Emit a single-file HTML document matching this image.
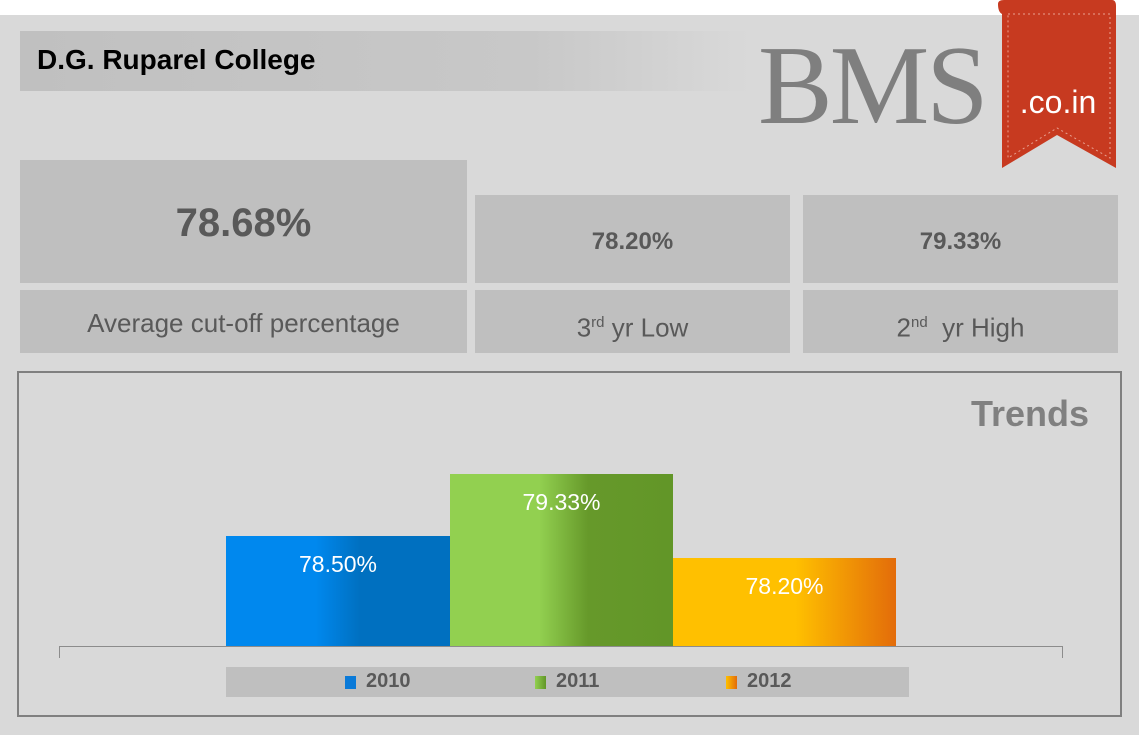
<!DOCTYPE html>
<html><head><style>
body{margin:0;width:1139px;height:735px;background:#fff;position:relative;overflow:hidden;font-family:"Liberation Sans",sans-serif}
.a{position:absolute}
.box{position:absolute;background:#bfbfbf;color:#595959;text-align:center}
</style></head><body>
<div class="a" style="left:0;top:15px;width:1139px;height:720px;background:#d9d9d9"></div>
<div class="a" style="left:20px;top:31px;width:730px;height:60px;background:linear-gradient(90deg,#c0c0c0 0%,#c8c8c8 70%,#d9d9d9 100%)"></div>
<div class="a" style="left:37px;top:44px;font-size:28px;font-weight:bold;color:#000">D.G. Ruparel College</div>
<div class="a" style="left:758px;top:30px;font-family:'Liberation Serif',serif;font-size:112px;line-height:112px;color:#7f7f7f;letter-spacing:-3px">BMS</div>
<svg class="a" style="left:994px;top:0" width="125" height="172">
<path d="M4 4 Q4 0 10 0 L118 0 Q122 0 122 6 L122 168 L63 135 L8 168 L8 14 Q4 12 4 4Z" fill="#c73a20"/>
<path d="M14 14 L116 14 L116 158 L63 128 L14 158Z" fill="none" stroke="#e8a090" stroke-width="1" stroke-dasharray="2 3"/>
<text x="64" y="113" text-anchor="middle" font-family="Liberation Sans" font-size="32" fill="#fff">.co.in</text>
</svg>
<div class="box" style="left:20px;top:160px;width:447px;height:123px;font-size:40px;font-weight:bold;line-height:126px">78.68%</div>
<div class="box" style="left:475px;top:195px;width:315px;height:88px;font-size:24px;font-weight:bold;line-height:94px">78.20%</div>
<div class="box" style="left:803px;top:195px;width:315px;height:88px;font-size:24px;font-weight:bold;line-height:94px">79.33%</div>
<div class="box" style="left:20px;top:290px;width:447px;height:63px;font-size:26px;line-height:66px">Average cut-off percentage</div>
<div class="box" style="left:475px;top:290px;width:315px;height:63px;font-size:26px;line-height:66px">3<sup style="font-size:15px">rd</sup> yr Low</div>
<div class="box" style="left:803px;top:290px;width:315px;height:63px;font-size:26px;line-height:66px">2<sup style="font-size:15px">nd</sup>&nbsp; yr High</div>
<div class="a" style="left:17px;top:371px;width:1101px;height:342px;border:2px solid #808080"></div>
<div class="a" style="right:50px;top:393px;font-size:36px;font-weight:bold;color:#808080">Trends</div>
<div class="a" style="left:226px;top:536px;width:224px;height:110px;background:linear-gradient(90deg,#0088ee 0%,#0088ee 40%,#0070c0 60%,#0070c0 100%)"></div>
<div class="a" style="left:450px;top:474px;width:223px;height:172px;background:linear-gradient(90deg,#92d050 0%,#92d050 40%,#66992a 62%,#629628 100%)"></div>
<div class="a" style="left:673px;top:558px;width:223px;height:88px;background:linear-gradient(90deg,#ffc000 0%,#ffc000 55%,#e36c0a 100%)"></div>
<div class="a" style="left:226px;top:551px;width:224px;text-align:center;color:#fff;font-size:23px">78.50%</div>
<div class="a" style="left:450px;top:489px;width:223px;text-align:center;color:#fff;font-size:23px">79.33%</div>
<div class="a" style="left:673px;top:573px;width:223px;text-align:center;color:#fff;font-size:23px">78.20%</div>
<div class="a" style="left:59px;top:646px;width:1004px;height:1px;background:#8c8c8c"></div>
<div class="a" style="left:59px;top:646px;width:1px;height:12px;background:#8c8c8c"></div>
<div class="a" style="left:1062px;top:646px;width:1px;height:12px;background:#8c8c8c"></div>
<div class="a" style="left:226px;top:667px;width:683px;height:30px;background:#bfbfbf"></div>
<div class="a" style="left:345px;top:676px;width:11px;height:13px;background:#0a7ad8"></div>
<div class="a" style="left:366px;top:670px;font-size:20px;font-weight:bold;color:#595959">2010</div>
<div class="a" style="left:535px;top:676px;width:11px;height:13px;background:linear-gradient(90deg,#92d050,#629628)"></div>
<div class="a" style="left:556px;top:670px;font-size:20px;font-weight:bold;color:#595959">2011</div>
<div class="a" style="left:726px;top:676px;width:11px;height:13px;background:linear-gradient(90deg,#ffc000,#e36c0a)"></div>
<div class="a" style="left:747px;top:670px;font-size:20px;font-weight:bold;color:#595959">2012</div>
</body></html>
